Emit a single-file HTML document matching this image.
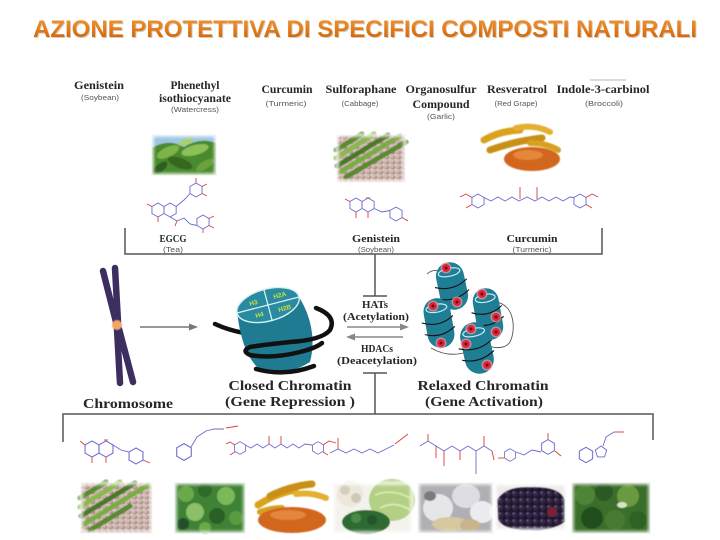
<!DOCTYPE html>
<html><head><meta charset="utf-8"><style>
html,body{margin:0;padding:0;background:#fff;}
svg{display:block;}
.lb{font-family:"Liberation Serif",serif;font-weight:bold;fill:#262626;}
.sb{font-family:"Liberation Sans",sans-serif;fill:#555;}
.bd{fill:none;stroke:#6a6ad0;stroke-width:0.9;}
.ox{fill:none;stroke:#e03a3a;stroke-width:0.9;}
</style></head><body>
<svg width="720" height="540" viewBox="0 0 720 540" xmlns="http://www.w3.org/2000/svg">
<defs>
<linearGradient id="tg" x1="0" y1="0" x2="0" y2="1"><stop offset="0" stop-color="#ef9a3a"/><stop offset="0.55" stop-color="#e07818"/><stop offset="1" stop-color="#c25c08"/></linearGradient>
<filter id="b1"><feGaussianBlur stdDeviation="0.4"/></filter>
<filter id="b3" x="-25%" y="-40%" width="150%" height="180%"><feGaussianBlur stdDeviation="1.5"/></filter>
<pattern id="bp" width="6" height="5" patternUnits="userSpaceOnUse"><rect width="6" height="5" fill="#d8c4bc"/><ellipse cx="3" cy="2.5" rx="2.4" ry="1.7" fill="#a88680"/><ellipse cx="2.3" cy="2" rx="0.9" ry="0.6" fill="#f2e8e4"/></pattern>
<pattern id="gp" width="7" height="7" patternUnits="userSpaceOnUse"><rect width="7" height="7" fill="#1c1228"/><circle cx="3.5" cy="3.5" r="3" fill="#35264a"/><circle cx="2.5" cy="2.5" r="0.9" fill="#7a6a90"/></pattern>
<polygon id="h" points="0,-7 6.06,-3.5 6.06,3.5 0,7 -6.06,3.5 -6.06,-3.5" fill="none" stroke="#6a6ad0" stroke-width="0.9"/>
<polygon id="p5" points="0,-6 5.7,-1.9 3.5,4.9 -3.5,4.9 -5.7,-1.9" fill="none" stroke="#6a6ad0" stroke-width="0.9"/>
</defs>

<!-- Title -->
<text x="366" y="38" text-anchor="middle" textLength="664" lengthAdjust="spacingAndGlyphs" font-family="Liberation Sans, sans-serif" font-weight="bold" font-size="24" fill="#b08a6a" opacity="0.45">AZIONE PROTETTIVA DI SPECIFICI COMPOSTI NATURALI</text>
<text x="365" y="37" text-anchor="middle" textLength="664" lengthAdjust="spacingAndGlyphs" font-family="Liberation Sans, sans-serif" font-weight="bold" font-size="24" fill="url(#tg)">AZIONE PROTETTIVA DI SPECIFICI COMPOSTI NATURALI</text>

<!-- Top labels -->
<line x1="590" y1="80" x2="626" y2="80" stroke="#c8c8c8" stroke-width="1.2"/>
<g font-size="12">
<text class="lb" x="99" y="89" text-anchor="middle" textLength="50" lengthAdjust="spacingAndGlyphs">Genistein</text>
<text class="lb" x="195" y="89" text-anchor="middle" textLength="49" lengthAdjust="spacingAndGlyphs">Phenethyl</text>
<text class="lb" x="195" y="102" text-anchor="middle" textLength="72" lengthAdjust="spacingAndGlyphs">isothiocyanate</text>
<text class="lb" x="287" y="93" text-anchor="middle" textLength="51" lengthAdjust="spacingAndGlyphs">Curcumin</text>
<text class="lb" x="361" y="93" text-anchor="middle" textLength="71" lengthAdjust="spacingAndGlyphs">Sulforaphane</text>
<text class="lb" x="441" y="93" text-anchor="middle" textLength="71" lengthAdjust="spacingAndGlyphs">Organosulfur</text>
<text class="lb" x="441" y="108" text-anchor="middle" textLength="57" lengthAdjust="spacingAndGlyphs">Compound</text>
<text class="lb" x="517" y="93" text-anchor="middle" textLength="60" lengthAdjust="spacingAndGlyphs">Resveratrol</text>
<text class="lb" x="603" y="93" text-anchor="middle" textLength="93" lengthAdjust="spacingAndGlyphs">Indole-3-carbinol</text>
</g>
<g font-size="7.5">
<text class="sb" x="100" y="100" text-anchor="middle" textLength="38" lengthAdjust="spacingAndGlyphs">(Soybean)</text>
<text class="sb" x="195" y="112" text-anchor="middle" textLength="48" lengthAdjust="spacingAndGlyphs">(Watercress)</text>
<text class="sb" x="286" y="106" text-anchor="middle" textLength="41" lengthAdjust="spacingAndGlyphs">(Turmeric)</text>
<text class="sb" x="360" y="106" text-anchor="middle" textLength="37" lengthAdjust="spacingAndGlyphs">(Cabbage)</text>
<text class="sb" x="441" y="119" text-anchor="middle" textLength="28" lengthAdjust="spacingAndGlyphs">(Garlic)</text>
<text class="sb" x="516" y="106" text-anchor="middle" textLength="43" lengthAdjust="spacingAndGlyphs">(Red Grape)</text>
<text class="sb" x="604" y="106" text-anchor="middle" textLength="38" lengthAdjust="spacingAndGlyphs">(Broccoli)</text>
</g>

<!-- Top tea image -->
<g filter="url(#b1)">
<rect x="152" y="135" width="64" height="40" fill="#4a862e"/>
<rect x="152" y="135" width="64" height="12" fill="#9ec6e2"/>
<path d="M152,148 Q168,138 184,147 Q200,137 216,143 L216,175 L152,175Z" fill="#4a8a2e"/>
<ellipse cx="168" cy="152" rx="12" ry="5" transform="rotate(-25 168 152)" fill="#7cb44a"/>
<ellipse cx="195" cy="150" rx="14" ry="5" transform="rotate(-15 195 150)" fill="#8cc058"/>
<ellipse cx="180" cy="163" rx="13" ry="5" transform="rotate(20 180 163)" fill="#35681f"/>
<ellipse cx="205" cy="165" rx="10" ry="4" transform="rotate(-30 205 165)" fill="#6aa03c"/>
<ellipse cx="160" cy="168" rx="9" ry="4" transform="rotate(-40 160 168)" fill="#2e5e1e"/>
<ellipse cx="186" cy="142" rx="8" ry="3" transform="rotate(-20 186 142)" fill="#a8d070"/>
</g>
<rect x="152" y="135" width="64" height="40" fill="none" stroke="#fff" stroke-width="3" filter="url(#b3)"/>

<!-- Top beans image -->
<g filter="url(#b1)">
<rect x="337" y="135" width="68" height="47" fill="url(#bp)"/>
<g stroke-linecap="round" stroke-width="5">
<line x1="336" y1="150" x2="362" y2="134" stroke="#5c8c30"/>
<line x1="336" y1="158" x2="374" y2="134" stroke="#8ab850"/>
<line x1="337" y1="166" x2="388" y2="135" stroke="#4a7a28"/>
<line x1="340" y1="172" x2="400" y2="136" stroke="#7aac44"/>
<line x1="346" y1="177" x2="406" y2="142" stroke="#5a8a30"/>
</g>
</g>
<rect x="337" y="135" width="68" height="47" fill="none" stroke="#fff" stroke-width="3" filter="url(#b3)"/>

<!-- Top turmeric image -->
<g filter="url(#b1)" stroke-linecap="round" fill="none">
<path d="M484,140 Q500,131 520,130" stroke="#d9a21e" stroke-width="7"/>
<path d="M490,150 Q515,141 542,138" stroke="#c98f16" stroke-width="7"/>
<path d="M516,128 Q534,124 550,132" stroke="#e3b030" stroke-width="6"/>
<path d="M530,143 Q546,143 558,150" stroke="#d6a020" stroke-width="6"/>
<ellipse cx="532" cy="159" rx="28" ry="12" fill="#d2661a" stroke="none"/>
<ellipse cx="528" cy="155" rx="15" ry="5" fill="#e4863a" stroke="none"/>
</g>

<!-- Top molecules -->
<g>
<use href="#h" x="158" y="210"/><use href="#h" x="170.1" y="210"/><use href="#h" x="196" y="190"/><use href="#h" x="203" y="222"/>
<polyline class="bd" points="176,206.5 184,200 190,193.5"/>
<polyline class="bd" points="170,217 177,221 184,218 190,224 197,225.5"/>
<g class="ox"><line x1="152" y1="206.5" x2="147" y2="204"/><line x1="158" y1="217" x2="158" y2="222"/><line x1="196" y1="183" x2="196" y2="178"/><line x1="202" y1="186.5" x2="207" y2="184"/><line x1="202" y1="193.5" x2="207" y2="196"/><line x1="209" y1="218.5" x2="214" y2="216"/><line x1="209" y1="225.5" x2="214" y2="228"/><line x1="203" y1="229" x2="203" y2="233"/><line x1="177" y1="221" x2="175" y2="226"/></g>
<use href="#h" x="356" y="205"/><use href="#h" x="368.1" y="205"/><use href="#h" x="396" y="214"/>
<polyline class="bd" points="374,208.5 382,212 390,210.5"/>
<g class="ox"><line x1="350" y1="201.5" x2="345" y2="199"/><line x1="356" y1="212" x2="356" y2="218"/><line x1="368" y1="212" x2="368" y2="218"/><line x1="402" y1="217.5" x2="408" y2="221"/><line x1="366" y1="198" x2="370" y2="198"/></g>
<use href="#h" x="478" y="201"/><use href="#h" x="580" y="201"/>
<polyline class="bd" points="484,197.5 491,201 498,197 505,201 512,197 519,201 527,197 535,201 542,197 549,201 556,197 563,201 570,197 574,197.5"/>
<g class="ox"><line x1="520" y1="199" x2="520" y2="187"/><line x1="537" y1="199" x2="537" y2="187"/><polyline points="472,197.5 466,194 460,197"/><line x1="472" y1="204.5" x2="466" y2="208"/><polyline points="586,197.5 592,194 598,197"/><line x1="586" y1="204.5" x2="592" y2="208"/></g>
</g>

<!-- Brackets -->
<g stroke="#555" stroke-width="1.5" fill="none">
<polyline points="125,228 125,254 602,254 602,228"/>
<line x1="375" y1="254" x2="375" y2="296"/>
<line x1="363" y1="296" x2="387" y2="296"/>
<line x1="363" y1="373" x2="387" y2="373"/>
<line x1="375" y1="373" x2="375" y2="414"/>
<polyline points="63,442 63,414 653,414 653,440"/>
</g>
<g font-size="10">
<text class="lb" x="173" y="242" text-anchor="middle" textLength="27" lengthAdjust="spacingAndGlyphs">EGCG</text>
<text class="lb" x="376" y="242" text-anchor="middle" textLength="48" lengthAdjust="spacingAndGlyphs">Genistein</text>
<text class="lb" x="532" y="242" text-anchor="middle" textLength="51" lengthAdjust="spacingAndGlyphs">Curcumin</text>
</g>
<g font-size="7">
<text class="sb" x="173" y="252" text-anchor="middle" textLength="20" lengthAdjust="spacingAndGlyphs">(Tea)</text>
<text class="sb" x="376" y="252" text-anchor="middle" textLength="36" lengthAdjust="spacingAndGlyphs">(Soybean)</text>
<text class="sb" x="532" y="252" text-anchor="middle" textLength="39" lengthAdjust="spacingAndGlyphs">(Turmeric)</text>
</g>

<!-- Chromosome -->
<g stroke="#3d2e60" stroke-width="6.5" stroke-linecap="round" fill="none">
<line x1="103" y1="271" x2="116" y2="322"/>
<line x1="115" y1="268" x2="118" y2="322"/>
<line x1="117" y1="329" x2="120" y2="383"/>
<line x1="119" y1="329" x2="133" y2="382"/>
</g>
<circle cx="117" cy="325" r="5" fill="#f5a465" filter="url(#b1)"/>
<line x1="140" y1="327" x2="191" y2="327" stroke="#777" stroke-width="1.6"/>
<polygon points="198,327 189,323.5 189,330.5" fill="#777"/>
<text class="lb" x="128" y="408" text-anchor="middle" font-size="14" textLength="90" lengthAdjust="spacingAndGlyphs">Chromosome</text>

<!-- Nucleosome -->
<g>
<path d="M215,324 Q228,330 244,333" stroke="#111" stroke-width="4.5" fill="none" stroke-linecap="round"/>
<path d="M237,312 C240,335 245,355 258,368 Q285,378 310,362 C316,340 311,316 299,297 Z" fill="#1f7b91"/>
<ellipse cx="268" cy="305" rx="32" ry="16" transform="rotate(-15 268 305)" fill="#2a8aa2" stroke="#d4f2f6" stroke-width="1.4"/>
<line x1="237" y1="313" x2="299" y2="297" stroke="#d4f2f6" stroke-width="1.3"/>
<line x1="264" y1="290" x2="272" y2="320" stroke="#d4f2f6" stroke-width="1.3"/>
<g font-family="Liberation Sans, sans-serif" font-weight="bold" font-size="6.5" fill="#c6e03a">
<text x="250" y="306" transform="rotate(-15 250 306)">H3</text>
<text x="274" y="299" transform="rotate(-15 274 299)">H2A</text>
<text x="256" y="318" transform="rotate(-15 256 318)">H4</text>
<text x="279" y="312" transform="rotate(-15 279 312)">H2B</text>
</g>
<path d="M316,308 Q337,316 330,330 Q322,340 290,342 Q262,345 250,347 Q241,351 250,355 Q272,359 300,352 Q316,348 322,343" stroke="#111" stroke-width="4.5" fill="none" stroke-linecap="round"/>
<path d="M256,369 Q285,377 314,366" stroke="#111" stroke-width="4.5" fill="none" stroke-linecap="round"/>
</g>
<text class="lb" x="290" y="390" text-anchor="middle" font-size="14" textLength="123" lengthAdjust="spacingAndGlyphs">Closed Chromatin</text>
<text class="lb" x="290" y="406" text-anchor="middle" font-size="14" textLength="130" lengthAdjust="spacingAndGlyphs">(Gene Repression )</text>

<!-- HATs / HDACs -->
<g font-size="10.5">
<text class="lb" x="375" y="308" text-anchor="middle" textLength="26" lengthAdjust="spacingAndGlyphs">HATs</text>
<text class="lb" x="376" y="320" text-anchor="middle" textLength="66" lengthAdjust="spacingAndGlyphs">(Acetylation)</text>
<text class="lb" x="377" y="352" text-anchor="middle" textLength="32" lengthAdjust="spacingAndGlyphs">HDACs</text>
<text class="lb" x="377" y="364" text-anchor="middle" textLength="80" lengthAdjust="spacingAndGlyphs">(Deacetylation)</text>
</g>
<line x1="347" y1="327" x2="402" y2="327" stroke="#888" stroke-width="1.6"/>
<polygon points="409,327 400,323.5 400,330.5" fill="#888"/>
<line x1="403" y1="337" x2="353" y2="337" stroke="#888" stroke-width="1.6"/>
<polygon points="346,337 355,333.5 355,340.5" fill="#888"/>

<!-- Relaxed chromatin -->
<g fill="none" stroke="#555" stroke-width="0.9">
<path d="M427,274 Q436,266 446,276"/>
<path d="M496,302 C515,305 516,330 510,342 C505,350 492,348 487,345"/>
<path d="M431,348 Q448,358 467,352"/>
</g>
<g>
<g transform="translate(452,286) rotate(-12)"><rect x="-14" y="-24" width="28" height="48" rx="14" fill="#1f7d94"/><ellipse cx="0" cy="-14" rx="11" ry="4" fill="none" stroke="#c4ecf2" stroke-width="1.2"/><path d="M-17,-2 Q0,6 16,-4 M-16,10 Q0,17 16,7" stroke="#111" stroke-width="1.1" fill="none"/></g>
<g transform="translate(439,323) rotate(-10)"><rect x="-13.5" y="-25" width="27" height="50" rx="13.5" fill="#1f7d94"/><ellipse cx="0" cy="-15" rx="10.5" ry="4" fill="none" stroke="#c4ecf2" stroke-width="1.2"/><path d="M-17,-3 Q0,5 15,-5 M-16,9 Q0,16 15,6" stroke="#111" stroke-width="1.1" fill="none"/></g>
<g transform="translate(488,314) rotate(-10)"><rect x="-13" y="-26" width="26" height="52" rx="13" fill="#1f7d94"/><ellipse cx="0" cy="-16" rx="10" ry="4" fill="none" stroke="#c4ecf2" stroke-width="1.2"/><path d="M-16,-4 Q0,4 15,-6 M-16,8 Q0,15 15,5" stroke="#111" stroke-width="1.1" fill="none"/></g>
<g transform="translate(477,348) rotate(-12)"><rect x="-14.5" y="-26" width="29" height="52" rx="14.5" fill="#1f7d94"/><ellipse cx="0" cy="-16" rx="11" ry="4" fill="none" stroke="#c4ecf2" stroke-width="1.2"/><path d="M-18,-3 Q0,5 16,-5 M-17,9 Q0,16 16,6" stroke="#111" stroke-width="1.1" fill="none"/></g>
</g>
<g>
<g fill="#f29aa8" opacity="0.7"><circle cx="446" cy="268" r="5.5"/><circle cx="457" cy="302" r="5.5"/><circle cx="433" cy="306" r="5.5"/><circle cx="441" cy="343" r="5.5"/><circle cx="482" cy="294" r="5.5"/><circle cx="496" cy="317" r="5.5"/><circle cx="496" cy="332" r="5.5"/><circle cx="471" cy="329" r="5.5"/><circle cx="466" cy="344" r="5.5"/><circle cx="487" cy="365" r="5.5"/></g>
<g fill="#e0283a"><circle cx="446" cy="268" r="4"/><circle cx="457" cy="302" r="4"/><circle cx="433" cy="306" r="4"/><circle cx="441" cy="343" r="4"/><circle cx="482" cy="294" r="4"/><circle cx="496" cy="317" r="4"/><circle cx="496" cy="332" r="4"/><circle cx="471" cy="329" r="4"/><circle cx="466" cy="344" r="4"/><circle cx="487" cy="365" r="4"/></g>
<g fill="#6a0010"><circle cx="446" cy="268" r="1.5"/><circle cx="457" cy="302" r="1.5"/><circle cx="433" cy="306" r="1.5"/><circle cx="441" cy="343" r="1.5"/><circle cx="482" cy="294" r="1.5"/><circle cx="496" cy="317" r="1.5"/><circle cx="496" cy="332" r="1.5"/><circle cx="471" cy="329" r="1.5"/><circle cx="466" cy="344" r="1.5"/><circle cx="487" cy="365" r="1.5"/></g>
</g>
<text class="lb" x="483" y="390" text-anchor="middle" font-size="14" textLength="131" lengthAdjust="spacingAndGlyphs">Relaxed Chromatin</text>
<text class="lb" x="484" y="406" text-anchor="middle" font-size="14" textLength="118" lengthAdjust="spacingAndGlyphs">(Gene Activation)</text>

<!-- Bottom molecules -->
<g>
<g transform="translate(92,449) scale(1.15)"><use href="#h"/></g><g transform="translate(106,449) scale(1.15)"><use href="#h"/></g><g transform="translate(136,456) scale(1.15)"><use href="#h"/></g>
<polyline class="bd" points="113,445 121,450 129,452"/>
<g class="ox"><line x1="85" y1="445" x2="80" y2="441"/><line x1="92" y1="457" x2="92" y2="463"/><line x1="106" y1="457" x2="106" y2="463"/><line x1="143" y1="460" x2="150" y2="463"/><line x1="104" y1="440" x2="108" y2="440"/></g>
<g transform="translate(184,452) scale(1.2)"><use href="#h"/></g>
<polyline class="bd" points="191,447 197,437 206,431 214,429 224,429"/>
<line class="ox" x1="226" y1="428" x2="238" y2="426"/>
<g transform="translate(240,448) scale(0.9)"><use href="#h"/></g><g transform="translate(318,448) scale(0.9)"><use href="#h"/></g>
<polyline class="bd" points="245,445 251,448 257,444 263,448 269,444 275,448 281,444 287,448 293,444 299,448 305,444 312,445"/>
<g class="ox"><line x1="269" y1="444" x2="269" y2="436"/><line x1="281" y1="444" x2="281" y2="436"/><polyline points="235,445 230,442 226,444"/><line x1="235" y1="452" x2="230" y2="455"/><polyline points="323,445 329,441 336,443"/><line x1="323" y1="452" x2="328" y2="455"/></g>
<polyline class="bd" points="330,453 338,449 346,453 354,449 362,453 370,449 378,453 386,449 394,445"/>
<g class="ox"><line x1="338" y1="449" x2="338" y2="438"/><line x1="395" y1="444" x2="408" y2="434"/></g>
<polyline class="bd" points="420,446 428,441 436,446 444,451 452,446 460,451 468,446 476,451 484,446 492,451"/>
<g class="ox"><line x1="428" y1="441" x2="428" y2="434"/><line x1="436" y1="446" x2="436" y2="458"/><line x1="444" y1="451" x2="444" y2="466"/><line x1="460" y1="451" x2="460" y2="460"/><line x1="484" y1="446" x2="484" y2="436"/><line x1="492" y1="451" x2="494" y2="460"/></g>
<line class="bd" x1="476" y1="451" x2="476" y2="474"/>
<g transform="translate(510,455) scale(0.9)"><use href="#h"/></g><g transform="translate(548,447) scale(1.05)"><use href="#h"/></g>
<polyline class="bd" points="516,452 524,455 532,450 541,452"/>
<g class="ox"><line x1="504" y1="458" x2="498" y2="458"/><line x1="548" y1="440" x2="548" y2="433"/><line x1="555" y1="451" x2="561" y2="456"/></g>
<g transform="translate(586,455) scale(1.1)"><use href="#h"/></g><g transform="translate(601,452)"><use href="#p5"/></g>
<polyline class="bd" points="603,446 606,437 614,432"/>
<line class="ox" x1="614" y1="432" x2="624" y2="432"/>
</g>

<!-- Bottom food images -->
<g filter="url(#b1)">
<rect x="81" y="483" width="71" height="50" fill="url(#bp)"/>
<g stroke-linecap="round" stroke-width="5">
<line x1="80" y1="498" x2="106" y2="482" stroke="#5c8c30"/>
<line x1="80" y1="507" x2="120" y2="482" stroke="#8ab850"/>
<line x1="81" y1="516" x2="135" y2="483" stroke="#4a7a28"/>
<line x1="84" y1="524" x2="148" y2="485" stroke="#7aac44"/>
<line x1="90" y1="530" x2="130" y2="506" stroke="#5a8a30"/>
</g>
</g>
<rect x="81" y="483" width="71" height="50" fill="none" stroke="#fff" stroke-width="3" filter="url(#b3)"/>
<g filter="url(#b1)">
<rect x="175" y="483" width="70" height="50" fill="#3f8236"/>
<circle cx="186" cy="494" r="8" fill="#6aa84a"/><circle cx="205" cy="490" r="7" fill="#2e6a2a"/><circle cx="226" cy="496" r="9" fill="#7ab858"/>
<circle cx="195" cy="512" r="9" fill="#8cc068"/><circle cx="217" cy="516" r="8" fill="#2a5e26"/><circle cx="236" cy="518" r="7" fill="#5a9a40"/>
<circle cx="183" cy="524" r="6" fill="#24502a"/><circle cx="205" cy="528" r="6" fill="#6aa84a"/>
</g>
<rect x="175" y="483" width="70" height="50" fill="none" stroke="#fff" stroke-width="3" filter="url(#b3)"/>
<g filter="url(#b1)" stroke-linecap="round" fill="none">
<path d="M258,505 Q275,494 295,490" stroke="#d9a21e" stroke-width="7"/>
<path d="M270,496 Q290,486 312,484" stroke="#c98f16" stroke-width="7"/>
<path d="M296,494 Q312,492 326,498" stroke="#e3b030" stroke-width="6"/>
<path d="M260,512 Q272,508 282,508" stroke="#d6a020" stroke-width="6"/>
<ellipse cx="292" cy="520" rx="34" ry="13" fill="#d2661a" stroke="none"/>
<ellipse cx="288" cy="515" rx="18" ry="5" fill="#e4863a" stroke="none"/>
</g>
<g filter="url(#b1)">
<rect x="333" y="483" width="79" height="50" fill="#f4f2ec"/>
<ellipse cx="392" cy="500" rx="23" ry="21" fill="#b4d084"/>
<path d="M375,495 Q392,488 410,498 M380,508 Q395,500 410,510" stroke="#dcecb8" stroke-width="1.5" fill="none"/>
<circle cx="350" cy="494" r="13" fill="#ece8dc"/><circle cx="345" cy="490" r="5" fill="#d4cebe"/><circle cx="356" cy="498" r="5" fill="#d0c9b8"/>
<ellipse cx="366" cy="522" rx="24" ry="12" fill="#2f6b32"/><circle cx="356" cy="518" r="5" fill="#4a8a44"/><circle cx="372" cy="520" r="5" fill="#22562a"/>
</g>
<rect x="333" y="483" width="79" height="50" fill="none" stroke="#fff" stroke-width="3" filter="url(#b3)"/>
<g filter="url(#b1)">
<rect x="418" y="483" width="75" height="50" fill="#b0b0b4"/>
<ellipse cx="438" cy="508" rx="15" ry="14" fill="#e6e6ea"/><ellipse cx="466" cy="496" rx="14" ry="12" fill="#dcdce2"/><ellipse cx="482" cy="512" rx="12" ry="11" fill="#ececf0"/>
<ellipse cx="450" cy="524" rx="18" ry="7" fill="#d8c8a0"/><ellipse cx="470" cy="525" rx="10" ry="6" fill="#c8b48a"/>
<ellipse cx="430" cy="496" rx="6" ry="5" fill="#7a7a80"/>
</g>
<rect x="418" y="483" width="75" height="50" fill="none" stroke="#fff" stroke-width="3" filter="url(#b3)"/>
<g filter="url(#b1)">
<rect x="495" y="484" width="71" height="46" fill="#efeaea"/>
<path d="M497,500 Q505,486 530,487 Q560,486 565,500 L565,522 Q550,532 530,530 Q505,531 498,520 Z" fill="url(#gp)"/>
<circle cx="552" cy="512" r="5" fill="#7a2032"/>
</g>
<rect x="495" y="484" width="71" height="46" fill="none" stroke="#fff" stroke-width="3" filter="url(#b3)"/>
<g filter="url(#b1)">
<rect x="572" y="483" width="78" height="50" fill="#3a6e2a"/>
<circle cx="585" cy="495" r="10" fill="#4e8434"/><circle cx="604" cy="492" r="9" fill="#2a5a20"/><circle cx="628" cy="496" r="11" fill="#6a9a40"/>
<circle cx="592" cy="518" r="11" fill="#244e1c"/><circle cx="615" cy="520" r="10" fill="#4a7a30"/><circle cx="638" cy="520" r="9" fill="#2e6224"/>
<ellipse cx="622" cy="505" rx="5" ry="3" fill="#d8e4c8"/>
</g>
<rect x="572" y="483" width="78" height="50" fill="none" stroke="#fff" stroke-width="3" filter="url(#b3)"/>
</svg>
</body></html>
